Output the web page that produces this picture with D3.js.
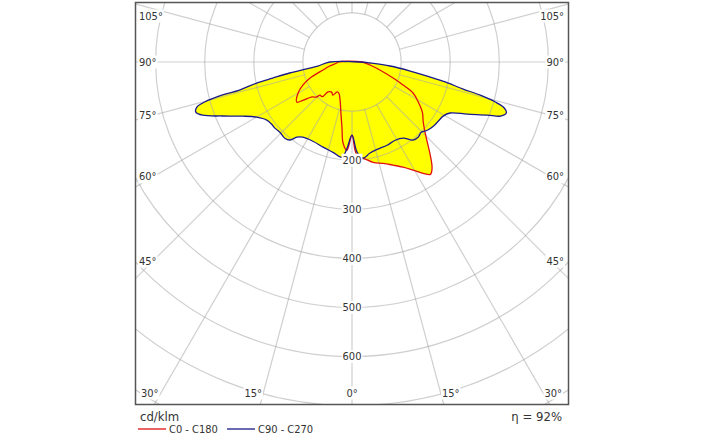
<!DOCTYPE html>
<html><head><meta charset="utf-8">
<script src="https://cdn.jsdelivr.net/npm/d3@7"></script>
<style>body{margin:0;background:#fff}svg{display:block}</style>
</head><body><svg id="c" width="704" height="440"></svg>
<script>
// C0 plane (right half, red)
const c0Gamma = [0, 2, 3.6, 6.5, 11.9, 17.1, 21.7, 25.9, 29.5, 32.6, 34.9, 37, 40, 43.2, 46.2, 49.8, 54.5, 58.8, 63, 65.7, 68.7, 74, 80.5, 90];
const c0Values = [149, 180, 194, 197, 209, 216, 226, 238, 253, 269, 279, 271, 248, 224, 206, 190, 176, 158, 140, 114, 90, 59, 37, 20];
// C180 plane (left half, red)
const c180Gamma = [0, 3.3, 6.3, 8.6, 11.7, 17.5, 22.8, 26.6, 29.9, 34, 38.7, 40.5, 44, 45.5, 48.8, 52, 54, 60, 65, 69, 74.6, 79.7, 86.2, 90];
const c180Values = [149, 180, 166, 136, 110, 81, 69, 68, 78, 74, 78, 93, 94, 102, 108, 127, 139, 127, 110, 92, 61, 46, 31, 28];
// C90 plane (right half, blue)
const c90Gamma = [0, 3.2, 6.5, 11.2, 16.6, 22.9, 28.9, 33.9, 38, 41.3, 44.6, 47.8, 51.7, 55.5, 59.3, 62.5, 65.7, 68.6, 70, 71.7, 73.2, 74.4, 75.5, 76.3, 77.9, 79.1, 81.2, 84, 86.8, 90];
const c90Values = [149, 184, 197, 189, 185, 184, 182, 187, 202, 204, 201, 207, 211, 213, 216, 225, 258, 296, 322, 331, 324, 303, 270, 233, 194, 162, 120, 78, 37, 18];
// C270 plane (left half, blue)
const c270Gamma = [0, 3.3, 6, 11.9, 18.8, 26.3, 33.2, 36.3, 38.5, 41.4, 45.8, 49.4, 52.2, 55.7, 59.9, 63.6, 67.3, 70.4, 72.2, 73.8, 74.8, 75.7, 76, 77.5, 78.5, 80, 81.9, 83.3, 90];
const c270Values = [149, 176, 195, 188, 183, 180, 183, 190, 203, 207, 205, 207, 207, 210, 224, 248, 285, 323, 334, 329, 311, 272, 236, 199, 165, 129, 87, 70, 45];

const ringValues = [100, 200, 300, 400, 500, 600, 700, 800, 900];
const ringLabels = [200, 300, 400, 500, 600];
const sideAngles = [45, 60, 75, 90, 105];
const bottomAngles = [0, 15, 30];
const unitLabel = "cd/klm";
const effLabel = "η = 92%";
const legendNames = ["C0 - C180", "C90 - C270"];
const colors = ["#e01010", "#1a1a8a"];

const svg = d3.select("#c");
const font = "'DejaVu Sans Condensed','Noto Sans','DejaVu Sans',sans-serif";
const cx = 352, cy = 62;
const fx0 = 135.5, fy0 = 2.5, fx1 = 568.5, fy1 = 404.5;
const r = d3.scaleLinear().domain([0, 100]).range([0, 49.1]);
const rad = d => d * Math.PI / 180;

svg.append("clipPath").attr("id", "fr").append("rect")
  .attr("x", fx0).attr("y", fy0).attr("width", fx1 - fx0).attr("height", fy1 - fy0);

function pt(g, v, side) {
  return [cx + side * Math.sin(rad(g)) * r(v), cy + Math.cos(rad(g)) * r(v)];
}
function planePts(lg, lv, rg, rv) {
  const pts = [];
  for (let i = lg.length - 1; i >= 0; i--) pts.push(pt(lg[i], lv[i], -1));
  for (let i = 1; i < rg.length; i++) pts.push(pt(rg[i], rv[i], 1));
  return pts;
}
const redPts = planePts(c180Gamma, c180Values, c0Gamma, c0Values);
const bluePts = planePts(c270Gamma, c270Values, c90Gamma, c90Values);
const line = d3.line().curve(d3.curveCatmullRomClosed.alpha(0.5));

const g = svg.append("g").attr("clip-path", "url(#fr)");
g.append("path").attr("d", line(redPts)).attr("fill", "#ffff00");
g.append("path").attr("d", line(bluePts)).attr("fill", "#ffff00");

// grid
const grid = g.append("g").attr("stroke", "#a8a8a8").attr("stroke-opacity", 0.55).attr("fill", "none").attr("stroke-width", 1.2);
ringValues.forEach(v => grid.append("circle").attr("cx", cx).attr("cy", cy).attr("r", r(v)));
d3.range(0, 360, 15).forEach(a => {
  const s = Math.sin(rad(a)), c = Math.cos(rad(a));
  grid.append("line")
    .attr("x1", cx + s * r(100)).attr("y1", cy + c * r(100))
    .attr("x2", cx + s * r(1200)).attr("y2", cy + c * r(1200));
});

// curves
g.append("path").attr("d", line(redPts)).attr("fill", "none").attr("stroke", colors[0]).attr("stroke-width", 1.3);
g.append("path").attr("d", line(bluePts)).attr("fill", "none").attr("stroke", colors[1]).attr("stroke-width", 1.3);

// labels with white background
function label(x, y, text, anchor, size) {
  const t = svg.append("text").attr("x", x).attr("y", y).attr("text-anchor", anchor)
    .attr("dominant-baseline", "central").attr("font-family", font).attr("font-size", size || 11)
    .attr("fill", "#333").text(text);
  const b = t.node().getBBox();
  svg.insert("rect", () => t.node()).attr("x", b.x - 1).attr("y", b.y).attr("width", b.width + 2).attr("height", b.height).attr("fill", "#fff");
}
ringLabels.forEach(v => label(cx, cy + r(v), String(v), "middle"));
sideAngles.forEach(a => {
  let y = cy + (cx - 153) / Math.tan(rad(a));
  if (a === 90) y = cy;
  y = Math.max(y, 16);
  label(139, y, a + "°", "start");
  label(564, y, a + "°", "end");
});
bottomAngles.forEach(a => {
  const y = 393;
  if (a === 0) { label(cx, y, "0°", "middle"); return; }
  const dx = (y - cy) * Math.tan(rad(a)) + 10;
  if (a === 30) { label(141, y, a + "°", "start"); label(562, y, a + "°", "end"); }
  else { label(cx - dx, y, a + "°", "middle"); label(cx + dx, y, a + "°", "middle"); }
});

// frame
svg.append("rect").attr("x", fx0).attr("y", fy0).attr("width", fx1 - fx0).attr("height", fy1 - fy0)
  .attr("fill", "none").attr("stroke", "#555").attr("stroke-width", 1.5);

// footer
svg.append("text").attr("x", 140).attr("y", 421).attr("font-family", font).attr("font-size", 13).attr("fill", "#333").text(unitLabel);
svg.append("text").attr("x", 562).attr("y", 421).attr("text-anchor", "end").attr("font-family", font).attr("font-size", 13).attr("fill", "#333").text(effLabel);
const legX = [138, 227];
legendNames.forEach((n, i) => {
  svg.append("line").attr("x1", legX[i]).attr("x2", legX[i] + 28).attr("y1", 429).attr("y2", 429).attr("stroke", colors[i]).attr("stroke-width", 1.3);
  svg.append("text").attr("x", legX[i] + 31).attr("y", 433).attr("font-family", font).attr("font-size", 11).attr("fill", "#333").text(n);
});
</script></body></html>
